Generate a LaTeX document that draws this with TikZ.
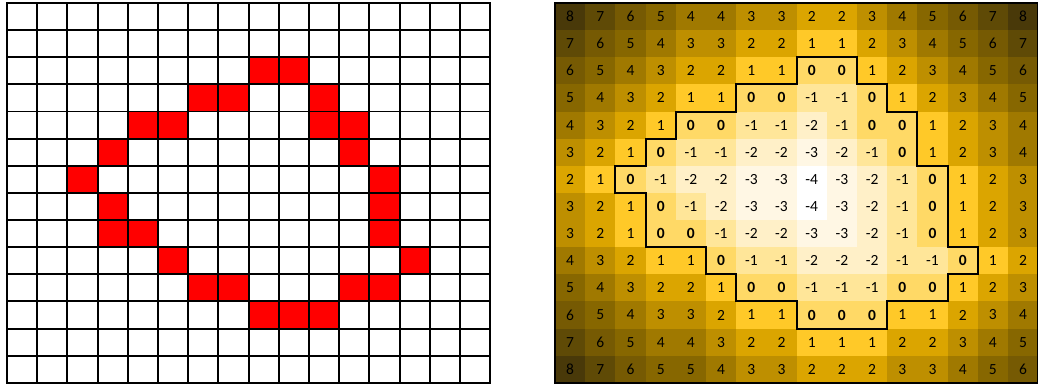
\documentclass[tikz,border=0pt]{standalone}
\usepackage{fontspec}
\setmainfont{Carlito}
% colour scale, index = value+4
\definecolor{c0}{RGB}{255,255,255}
\definecolor{c1}{RGB}{255,247,228}
\definecolor{c2}{RGB}{255,240,200}
\definecolor{c3}{RGB}{255,230,153}
\definecolor{c4}{RGB}{255,217,102}
\definecolor{c5}{RGB}{255,201,40}
\definecolor{c6}{RGB}{219,165,0}
\definecolor{c7}{RGB}{190,143,0}
\definecolor{c8}{RGB}{160,121,0}
\definecolor{c9}{RGB}{135,103,0}
\definecolor{c10}{RGB}{118,90,3}
\definecolor{c11}{RGB}{95,74,6}
\definecolor{c12}{RGB}{73,57,9}
\def\cw{30.2}\def\ch{27.13}

\begin{document}
\begin{tikzpicture}[x=1pt,y=-1pt,
  cell/.style={rectangle,inner sep=0pt,outer sep=0pt,minimum width=\cw pt,minimum height=\ch pt},
  gridcell/.style={cell,draw=black,line width=1.9pt,fill=white},
  numcell/.style={cell,font=\fontsize{15.5}{17}\selectfont}]
\useasboundingbox (0,0) rectangle (1038,387);
% left grid
\foreach \r in {0,...,13}{\foreach \c in {0,...,15}{\node[gridcell] (g-\r-\c) at (7+\cw*\c+\cw/2,3+\ch*\r+\ch/2){};}}
\foreach \r/\cols in {2/{8,9},3/{6,7,10},4/{4,5,10,11},5/{3,11},6/{2,12},7/{3,12},8/{3,4,12},9/{5,13},10/{6,7,11,12},11/{8,9,10}}{
  \foreach \c in \cols{\node[gridcell,fill=red] (red-\r-\c) at (g-\r-\c){};}}
% right grid
\foreach \r/\vals in {0/{8,7,6,5,4,4,3,3,2,2,3,4,5,6,7,8},1/{7,6,5,4,3,3,2,2,1,1,2,3,4,5,6,7},
  2/{6,5,4,3,2,2,1,1,0,0,1,2,3,4,5,6},3/{5,4,3,2,1,1,0,0,-1,-1,0,1,2,3,4,5},
  4/{4,3,2,1,0,0,-1,-1,-2,-1,0,0,1,2,3,4},5/{3,2,1,0,-1,-1,-2,-2,-3,-2,-1,0,1,2,3,4},
  6/{2,1,0,-1,-2,-2,-3,-3,-4,-3,-2,-1,0,1,2,3},7/{3,2,1,0,-1,-2,-3,-3,-4,-3,-2,-1,0,1,2,3},
  8/{3,2,1,0,0,-1,-2,-2,-3,-3,-2,-1,0,1,2,3},9/{4,3,2,1,1,0,-1,-1,-2,-2,-2,-1,-1,0,1,2},
  10/{5,4,3,2,2,1,0,0,-1,-1,-1,0,0,1,2,3},11/{6,5,4,3,3,2,1,1,0,0,0,1,1,2,3,4},
  12/{7,6,5,4,4,3,2,2,1,1,1,2,2,3,4,5},13/{8,7,6,5,5,4,3,3,2,2,2,3,3,4,5,6}}{
  \foreach \v [count=\c from 0] in \vals{
    \pgfmathtruncatemacro\k{\v+4}
    \node[numcell,fill=c\k] (d-\r-\c) at (555+\cw*\c+\cw/2,3+\ch*\r+\ch/2){\ifnum\v=0 \textbf{0}\else\v\fi};}}
\draw[line width=1.8pt] (d-0-0.north west) rectangle (d-13-15.south east);
% zero contour
\draw[line width=2pt] (d-2-8.north west) -- (d-2-10.north west) -- (d-3-10.north west) -- (d-3-11.north west)
  -- (d-4-11.north west) -- (d-4-12.north west) -- (d-6-12.north west) -- (d-6-13.north west)
  -- (d-9-13.north west) -- (d-9-14.north west) -- (d-10-14.north west) -- (d-10-13.north west)
  -- (d-11-13.north west) -- (d-11-11.north west) -- (d-12-11.north west) -- (d-12-8.north west)
  -- (d-11-8.north west) -- (d-11-6.north west) -- (d-10-6.north west) -- (d-10-5.north west)
  -- (d-9-5.north west) -- (d-9-3.north west) -- (d-7-3.north west) -- (d-7-2.north west)
  -- (d-6-2.north west) -- (d-6-3.north west) -- (d-5-3.north west) -- (d-5-4.north west)
  -- (d-4-4.north west) -- (d-4-6.north west) -- (d-3-6.north west) -- (d-3-8.north west) -- cycle;
\end{tikzpicture}
\end{document}
